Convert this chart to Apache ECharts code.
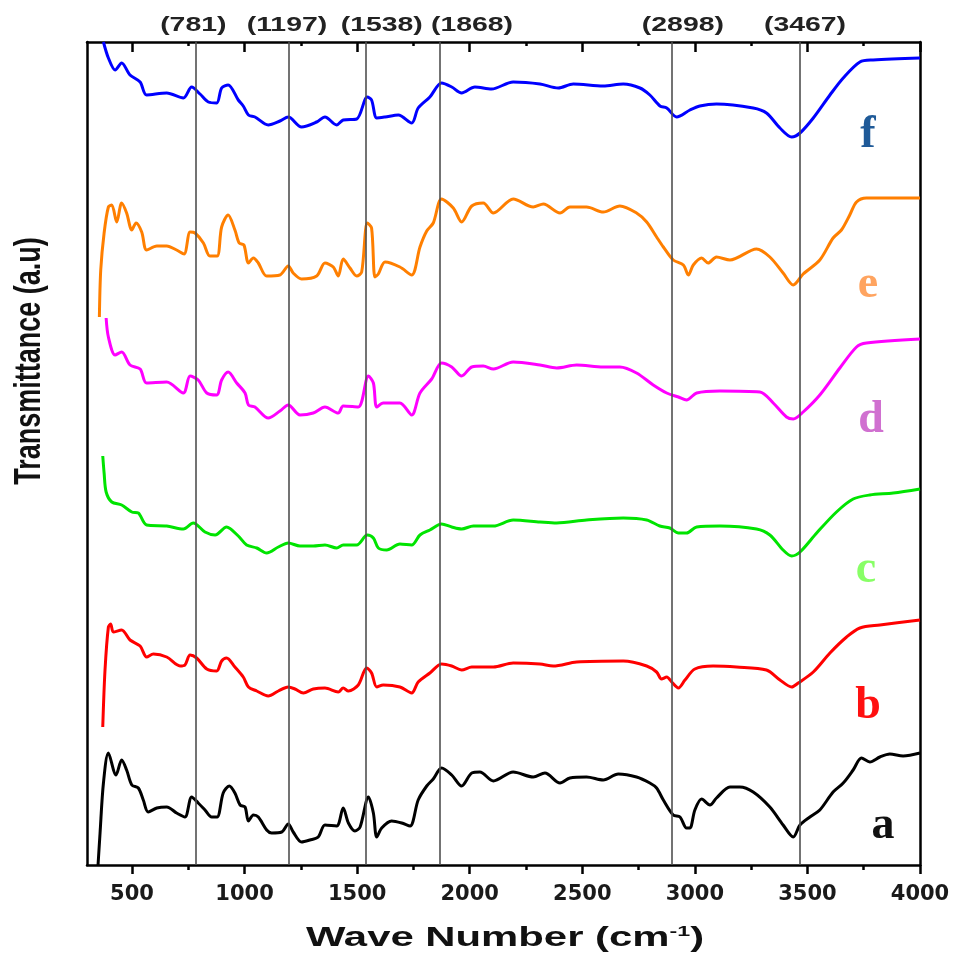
<!DOCTYPE html>
<html>
<head>
<meta charset="utf-8">
<script src="https://cdn.jsdelivr.net/npm/echarts@6/dist/echarts.min.js"></script>
<style>
  html, body { margin: 0; padding: 0; background: #ffffff; }
  #chart { width: 962px; height: 955px; }
</style>
</head>
<body>
<div id="chart"></div>
<script>
// FTIR spectra, stacked with vertical offsets: [wavenumber (cm-1), transmittance (a.u.)]
const curveA = [[349,0],[358,32],[373,82],[395,112],[429,90],[454,105],[476,95],[499,80],[528,77],[550,65],[572,53],[610,57],[654,58],[698,52],[735,48],[765,68],[794,62],[824,55],[854,48],[878,48],[905,72],[932,79],[957,72],[980,60],[1002,58],[1017,44],[1039,50],[1061,48],[1098,35],[1120,32],[1165,33],[1194,41],[1216,33],[1253,23],[1290,25],[1327,28],[1357,40],[1409,39],[1438,57],[1461,42],[1490,34],[1513,38],[1550,68],[1572,52],[1587,28],[1609,37],[1653,44],[1698,42],[1735,39],[1771,65],[1809,79],[1838,86],[1875,97],[1920,90],[1964,79],[2009,92],[2045,93],[2105,84],[2193,93],[2282,88],[2334,92],[2401,82],[2445,87],[2519,88],[2593,85],[2660,91],[2741,88],[2800,82],[2830,77],[2860,65],[2904,50],[2934,48],[2963,37],[2978,37],[3000,55],[3030,66],[3067,60],[3096,67],[3156,78],[3200,78],[3259,73],[3333,58],[3392,40],[3437,28],[3467,40],[3511,48],[3555,55],[3614,73],[3659,82],[3703,95],[3740,107],[3777,103],[3822,108],[3866,111],[3925,109],[4000,112]];
const curveB = [[370,138],[380,195],[395,238],[405,241],[417,233],[454,235],[491,225],[536,219],[565,208],[595,211],[654,208],[713,199],[735,200],[758,210],[787,207],[832,196],[876,194],[898,204],[920,207],[957,198],[994,188],[1017,178],[1054,174],[1105,169],[1150,174],[1194,178],[1224,176],[1261,172],[1305,176],[1357,177],[1416,173],[1438,177],[1461,174],[1505,180],[1542,197],[1564,192],[1587,178],[1616,180],[1690,178],[1742,172],[1771,183],[1823,192],[1875,201],[1920,199],[1964,195],[2009,198],[2105,198],[2193,202],[2312,201],[2371,199],[2475,203],[2682,204],[2786,199],[2830,193],[2852,186],[2875,188],[2897,183],[2927,177],[2956,185],[3000,196],[3081,199],[3185,198],[3318,195],[3378,185],[3430,178],[3459,182],[3526,193],[3600,212],[3674,228],[3733,237],[3822,240],[4000,245]];
const curveC = [[370,409],[376,392],[385,373],[410,363],[454,360],[499,353],[528,352],[565,340],[654,339],[728,336],[772,342],[824,333],[869,330],[920,338],[972,329],[1009,320],[1054,317],[1098,312],[1150,318],[1194,322],[1246,319],[1305,319],[1357,320],[1409,317],[1438,320],[1498,320],[1545,330],[1572,327],[1594,317],[1631,315],[1690,321],[1742,320],[1779,330],[1823,335],[1875,341],[1920,338],[1964,336],[2016,339],[2105,339],[2193,345],[2312,343],[2386,342],[2519,345],[2682,347],[2786,345],[2844,339],[2889,337],[2927,332],[2963,332],[3008,338],[3111,339],[3274,336],[3333,330],[3392,315],[3430,309],[3467,313],[3541,332],[3629,353],[3703,366],[3777,370],[3881,372],[4000,376]];
const curveD = [[385,547],[395,528],[425,510],[454,513],[491,500],[536,496],[565,482],[654,483],[728,472],[758,489],[794,485],[832,472],[876,470],[898,485],[927,493],[965,482],[1002,472],[1017,460],[1046,458],[1105,447],[1157,454],[1194,460],[1246,450],[1305,452],[1357,458],[1416,452],[1438,459],[1505,458],[1550,489],[1572,482],[1587,458],[1616,462],[1690,462],[1742,450],[1779,472],[1831,486],[1875,502],[1920,498],[1964,489],[2009,498],[2060,499],[2105,496],[2193,503],[2312,500],[2386,497],[2475,500],[2593,498],[2667,498],[2741,492],[2815,480],[2875,472],[2927,468],[2963,465],[3008,472],[3111,474],[3289,473],[3348,462],[3407,448],[3437,446],[3481,453],[3555,470],[3644,497],[3718,518],[3762,522],[4000,526]];
const curveE = [[355,548],[361,595],[376,632],[395,658],[410,660],[432,643],[454,662],[476,652],[499,635],[518,642],[543,633],[565,615],[610,619],[654,619],[698,615],[731,611],[758,633],[780,632],[817,622],[846,609],[878,609],[898,638],[927,650],[957,635],[976,622],[997,620],[1017,602],[1039,607],[1061,602],[1098,589],[1157,590],[1194,599],[1216,592],[1253,586],[1320,589],[1357,602],[1394,598],[1416,589],[1438,606],[1468,597],[1498,589],[1520,593],[1545,642],[1564,637],[1579,588],[1594,591],[1624,603],[1690,598],[1742,590],[1779,618],[1809,634],[1838,642],[1875,666],[1927,657],[1964,643],[2009,659],[2060,662],[2105,652],[2193,666],[2282,658],[2327,661],[2401,652],[2445,658],[2519,658],[2593,653],[2667,659],[2741,652],[2786,643],[2830,628],[2860,618],[2904,605],[2949,600],[2971,590],[2993,600],[3030,607],[3059,602],[3096,608],[3156,605],[3274,616],[3333,608],[3392,592],[3437,580],[3481,591],[3555,605],[3614,627],[3651,635],[3688,650],[3718,663],[3762,667],[4000,667]];
const curveF = [[373,823],[395,807],[425,795],[454,802],[491,790],[536,783],[565,770],[654,772],[728,767],[765,778],[802,771],[839,763],[876,762],[898,777],[927,780],[972,765],[994,759],[1017,750],[1046,748],[1105,740],[1157,744],[1194,748],[1253,738],[1320,743],[1357,748],[1409,740],[1438,745],[1498,746],[1545,768],[1564,765],[1587,747],[1624,748],[1683,750],[1742,742],[1771,757],[1823,768],[1875,782],[1920,778],[1964,772],[2023,778],[2097,776],[2193,783],[2312,781],[2393,777],[2460,781],[2593,779],[2682,781],[2756,777],[2800,770],[2845,759],[2875,757],[2919,748],[2978,755],[3022,759],[3096,761],[3259,757],[3318,752],[3378,737],[3430,728],[3467,732],[3526,747],[3600,770],[3659,787],[3733,803],[3792,805],[4000,807]];

const sampleNames = ['a', 'b', 'c', 'd', 'e', 'f'];
const sampleCurves = [curveA, curveB, curveC, curveD, curveE, curveF];
const peakPositions = [781, 1197, 1538, 1868, 2898, 3467];
const xTickValues = [500, 1000, 1500, 2000, 2500, 3000, 3500, 4000];
const xMinorTickValues = [750, 1250, 1750, 2250, 2750, 3250, 3750];

// styling
const lineColors = ['#000000', '#ff0000', '#00e400', '#ff00ff', '#ff7f00', '#0000ff'];
const tagColors = ['#111111', '#ff1010', '#88ff66', '#d070d0', '#ffa460', '#1f5a98'];
const tagPlaces = [[883, 826], [868, 706], [866, 570], [871, 420], [868, 285], [868, 135]];
const peakLabelShift = [-2, -2, 16, 32, 11, 5];

const chart = echarts.init(document.getElementById('chart'), null, { renderer: 'canvas' });

const axisBlack = { color: '#000', width: 2.5 };
const X_MIN = 300, X_MAX = 4000;

function xAxisPart(position, tickValues, tickLen, inside, showLine) {
  return {
    type: 'value', position: position, min: X_MIN, max: X_MAX,
    axisLine: { show: showLine, onZero: false, lineStyle: axisBlack },
    axisTick: { show: true, inside: inside, length: tickLen, customValues: tickValues,
                lineStyle: { color: '#000', width: 2.5 } },
    axisLabel: { show: false },
    splitLine: { show: false }
  };
}

const bottomMain = xAxisPart('bottom', xTickValues, 9, false, true);
bottomMain.axisLabel = {
  show: true, customValues: xTickValues, margin: 19,
  formatter: v => String(v),
  fontFamily: 'DejaVu Sans', fontWeight: 'bold', fontSize: 21, color: '#1a1a1a'
};

const series = sampleCurves.map((curve, i) => ({
  name: sampleNames[i],
  type: 'line',
  xAxisIndex: 0,
  yAxisIndex: 0,
  data: curve,
  showSymbol: false,
  symbol: 'none',
  smooth: 0.3,
  clip: true,
  lineStyle: { color: lineColors[i], width: 3 },
  itemStyle: { color: lineColors[i] },
  emphasis: { disabled: true },
  z: 3
}));

// vertical reference lines at the assigned bands
series[0].markLine = {
  silent: true,
  symbol: ['none', 'none'],
  label: { show: false },
  lineStyle: { color: '#505050', width: 1.6, type: 'solid' },
  emphasis: { disabled: true },
  data: peakPositions.map(v => ({ xAxis: v }))
};

chart.setOption({
  animation: false,
  backgroundColor: '#ffffff',
  grid: { left: 87, right: 42, top: 42, bottom: 90, containLabel: false },
  xAxis: [
    bottomMain,
    xAxisPart('bottom', xMinorTickValues, 5, false, false),
    xAxisPart('top', xTickValues, 10, true, true),
    xAxisPart('top', xMinorTickValues, 4, true, false)
  ],
  yAxis: [
    { type: 'value', position: 'left', min: 0, max: 823,
      axisLine: { show: true, onZero: false, lineStyle: axisBlack },
      axisTick: { show: false }, axisLabel: { show: false }, splitLine: { show: false } },
    { type: 'value', position: 'right', min: 0, max: 823,
      axisLine: { show: true, onZero: false, lineStyle: axisBlack },
      axisTick: { show: false }, axisLabel: { show: false }, splitLine: { show: false } }
  ],
  series: series
});

// text annotations: band labels, sample tags, axis titles
const toPx = v => chart.convertToPixel({ xAxisIndex: 0 }, v);
const graphics = [];

peakPositions.forEach((v, i) => {
  graphics.push({
    type: 'text', x: toPx(v) + peakLabelShift[i], y: 25, scaleX: 1.42,
    style: { text: '(' + v + ')', fontFamily: 'Liberation Sans', fontWeight: 'bold', fontSize: 20,
             fill: '#222', align: 'center', verticalAlign: 'middle' }
  });
});

sampleNames.forEach((n, i) => {
  graphics.push({
    type: 'text', x: tagPlaces[i][0], y: tagPlaces[i][1],
    style: { text: n, fontFamily: 'Liberation Serif', fontWeight: 'bold', fontSize: 46,
             fill: tagColors[i], align: 'center', verticalAlign: 'middle' }
  });
});

graphics.push({
  type: 'text', x: 30, y: 361, rotation: Math.PI / 2, scaleY: 1.35,
  style: { text: 'Transmittance (a.u)', fontFamily: 'Liberation Sans', fontWeight: 'bold', fontSize: 27,
           fill: '#111', align: 'center', verticalAlign: 'middle' }
});

graphics.push({
  type: 'text', x: 505, y: 939, scaleX: 1.55,
  style: {
    text: '{m|Wave Number (cm}{s|-1}{m|)}',
    align: 'center', verticalAlign: 'middle', fill: '#111',
    rich: {
      m: { fontFamily: 'Liberation Sans', fontWeight: 'bold', fontSize: 27, fill: '#111' },
      s: { fontFamily: 'Liberation Sans', fontWeight: 'bold', fontSize: 15, fill: '#111', padding: [0, 0, 14, 0] }
    }
  }
});

chart.setOption({ graphic: graphics });
</script>
</body>
</html>
